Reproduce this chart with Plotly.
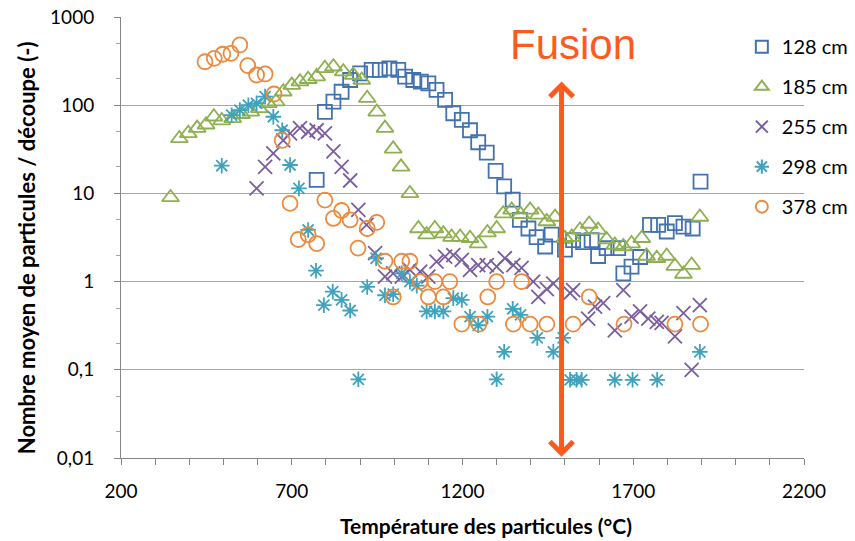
import math
import plotly.graph_objects as go

# ---------------- data ----------------
t_128 = [773, 797, 822, 846, 871, 900, 934, 958, 986, 1012, 1032, 1056, 1078, 1100, 1124, 1149,
         1173, 1198, 1222, 1246, 1271, 1297, 1322, 1347, 1368, 1393, 1417, 1442, 1461, 1500,
         1524, 1553, 1578, 1597, 1622, 1656, 1671, 1695, 1720, 1749, 1773, 1798, 1822, 1847,
         1874, 1897]
v_128 = [14.2, 84, 110, 142, 193, 230, 251, 251, 262, 251, 211, 193, 185, 177, 149, 115,
         81, 68, 52, 38, 29, 18, 12, 8.5, 5.0, 4.0, 3.2, 2.5, 3.4, 2.3,
         2.95, 2.8, 2.95, 1.95, 2.4, 2.4, 1.24, 1.48, 1.9, 4.4, 4.4, 3.7, 4.6, 4.2,
         4.0, 13.6]

t_185 = [345, 371, 397, 423, 449, 472, 495, 527, 553, 580, 605, 631, 654, 675, 700, 724, 748,
         773, 797, 822, 851, 880, 905, 921, 949, 973, 997, 1020, 1046, 1071, 1095, 1119, 1144,
         1168, 1193, 1222, 1246, 1273, 1300, 1319, 1344, 1370, 1398, 1422, 1447, 1471, 1500,
         1520, 1544, 1571, 1597, 1622, 1646, 1671, 1695, 1725, 1739, 1769, 1798, 1822, 1847,
         1871, 1895]
v_185 = [9.0, 42, 48, 55, 60, 74, 67, 71, 79, 84, 92, 105, 110, 142, 169, 185, 197,
         211, 262, 273, 240, 220, 193, 120, 84, 55, 32, 20, 10, 4.0, 3.4, 4.0, 3.5,
         3.2, 3.2, 3.1, 2.7, 3.6, 4.0, 5.9, 6.5, 5.8, 6.5, 5.7, 4.8, 5.4, 3.1,
         3.2, 3.85, 4.5, 3.85, 3.0, 2.6, 2.5, 2.7, 3.1, 1.95, 1.84, 1.95, 1.5, 1.22,
         1.54, 5.4]

t_255 = [597, 622, 646, 675, 695, 724, 748, 773, 797, 822, 846, 871, 895, 919, 944, 973, 997,
         1022, 1046, 1076, 1100, 1124, 1149, 1173, 1198, 1222, 1246, 1271, 1300, 1324, 1349,
         1373, 1407, 1422, 1447, 1466, 1515, 1524, 1568, 1588, 1612, 1646, 1671, 1695, 1720,
         1744, 1769, 1783, 1822, 1847, 1871, 1895]
v_255 = [11.4, 20, 28.5, 40, 48, 55, 50, 52, 48, 30, 20, 14, 6.5, 4.4, 2.1, 1.14, 1.24,
         1.14, 1.36, 1.3, 1.14, 1.68, 1.92, 2.0, 1.76, 1.36, 1.54, 1.54, 1.48, 1.84, 1.54,
         1.43, 1.0, 0.67, 0.82, 0.95, 0.74, 0.8, 0.38, 0.52, 0.57, 0.28, 0.80, 0.40, 0.46,
         0.38, 0.35, 0.34, 0.24, 0.44, 0.1, 0.54]

t_298 = [495, 524, 548, 573, 597, 622, 646, 672, 695, 721, 748, 771, 794, 820, 846, 871, 895,
         921, 947, 973, 997, 1022, 1046, 1066, 1095, 1119, 1144, 1173, 1198, 1222, 1246, 1273,
         1300, 1322, 1347, 1370, 1419, 1466, 1495, 1515, 1534, 1549, 1646, 1698, 1770, 1895]
v_298 = [20.6, 77, 88, 100, 105, 125, 74, 52, 21, 11.4, 3.85, 1.33, 0.54, 0.77, 0.62, 0.47, 0.078,
         0.87, 1.84, 0.70, 0.72, 1.24, 1.0, 0.9, 0.46, 0.46, 0.46, 0.65, 0.62, 0.40, 0.32, 0.40,
         0.078, 0.16, 0.49, 0.42, 0.23, 0.16, 0.23, 0.077, 0.077, 0.077, 0.077, 0.077, 0.077, 0.16]

t_378 = [446, 473, 498, 522, 548, 571, 597, 622, 648, 672, 695, 719, 748, 773, 797, 822, 846,
         871, 894, 921, 949, 973, 997, 1022, 1046, 1076, 1100, 1119, 1144, 1163, 1198, 1248,
         1274, 1300, 1349, 1373, 1398, 1447, 1524, 1571, 1673, 1822, 1897]
v_378 = [311, 340, 378, 387, 482, 281, 220, 226, 134, 40, 7.7, 3.0, 3.4, 2.7, 8.4, 5.2, 6.4,
         5.0, 2.4, 4.0, 4.7, 1.7, 0.67, 1.7, 1.7, 1.0, 0.67, 1.0, 0.67, 1.0, 0.33, 0.33,
         0.67, 1.0, 0.33, 1.0, 0.33, 0.33, 0.33, 0.67, 0.33, 0.33, 0.33]

series_names = ["128 cm", "185 cm", "255 cm", "298 cm", "378 cm"]
x_ticks = [200, 700, 1200, 1700, 2200]
y_ticks = [0.01, 0.1, 1, 10, 100, 1000]
y_tick_text = ["0,01", "0,1", "1", "10", "100", "1000"]
x_title = "Température des particules (°C)"
y_title = "Nombre moyen de particules / découpe (-)"
fusion_temp = 1490
arrow_top, arrow_bottom = 193, 0.0103

# ---------------- figure ----------------
styles = [
    ("square-open", "#4372B0", 14),
    ("triangle-up-open", "#8FB050", 15),
    ("x-thin-open", "#7B5E9E", 14),
    ("asterisk-open", "#3FA3BD", 13),
    ("circle-open", "#EB8A3E", 15),
]
data = [(t_128, v_128), (t_185, v_185), (t_255, v_255), (t_298, v_298), (t_378, v_378)]

fig = go.Figure()
for i, ((xs, ys), name, (sym, col, sz)) in enumerate(zip(data, series_names, styles)):
    fig.add_trace(go.Scatter(
        x=xs, y=ys, mode="markers", name=name, legendgroup=name,
        marker=dict(symbol=sym, size=sz, color=col, line=dict(color=col, width=1.8)),
    ))

FONT = "Lato"
fig.update_layout(
    width=855, height=541,
    # the page body adds an 8px offset; margins compensate for it
    margin=dict(l=113, r=59, t=9, b=91, autoexpand=False),
    paper_bgcolor="white", plot_bgcolor="white",
    font=dict(family=FONT, color="#000000"),
    showlegend=True,
    legend=dict(
        x=0.909, y=0.977, xanchor="left", yanchor="top",
        bgcolor="rgba(0,0,0,0)", font=dict(size=20, family=FONT, color="#000000"),
        itemsizing="constant", tracegroupgap=11,
    ),
    xaxis=dict(
        range=[200, 2200], tickvals=x_ticks, ticks="outside", ticklen=6, tickcolor="#868686",
        showline=True, linecolor="#868686", linewidth=1, showgrid=False, zeroline=False,
        tickfont=dict(size=19, family=FONT), ticklabelstandoff=10, automargin=False,
        minor=dict(dtick=100, ticks="outside", ticklen=6, tickcolor="#868686", showgrid=False),
    ),
    yaxis=dict(
        type="log", range=[-2, 3], tickvals=y_ticks, ticktext=y_tick_text,
        ticks="outside", ticklen=6, tickcolor="#868686",
        showline=True, linecolor="#868686", linewidth=1, automargin=False,
        showgrid=True, gridcolor="#A6A6A6", gridwidth=1, zeroline=False,
        tickfont=dict(size=19, family=FONT), ticklabelstandoff=16, ticklabeloverflow="allow",
        minor=dict(ticks="outside", ticklen=4, tickcolor="#A6A6A6", showgrid=False),
    ),
)

# axis titles (placed as in the reference)
fig.add_annotation(
    x=0.534, y=-0.154, xref="paper", yref="paper", xanchor="center", yanchor="middle",
    text="<b>" + x_title + "</b>", showarrow=False, font=dict(size=21, family=FONT, color="#000000"),
)
fig.add_annotation(
    x=-0.139, y=0.476, xref="paper", yref="paper", xanchor="center", yanchor="middle",
    text="<b>" + y_title + "</b>", showarrow=False, textangle=-90,
    font=dict(size=22, family=FONT, color="#000000"),
)

# Fusion double arrow (annotation coordinates on a log axis are log10 values)
fig.add_annotation(
    x=fusion_temp, y=math.log10(arrow_bottom), ax=fusion_temp, ay=math.log10(arrow_top),
    xref="x", yref="y", axref="x", ayref="y",
    text="", showarrow=True, arrowhead=4, startarrowhead=4, arrowside="end+start",
    arrowwidth=5, arrowsize=0.9, startarrowsize=0.9, arrowcolor="#FF5A1E",
)
fig.add_annotation(
    x=fusion_temp, y=0.937, xref="x", yref="paper", yanchor="middle", xanchor="center",
    text="Fusion", showarrow=False, xshift=11,
    font=dict(size=42, family="Liberation Sans", color="#FF5A1E"),
)

fig.write_html("out.html")
